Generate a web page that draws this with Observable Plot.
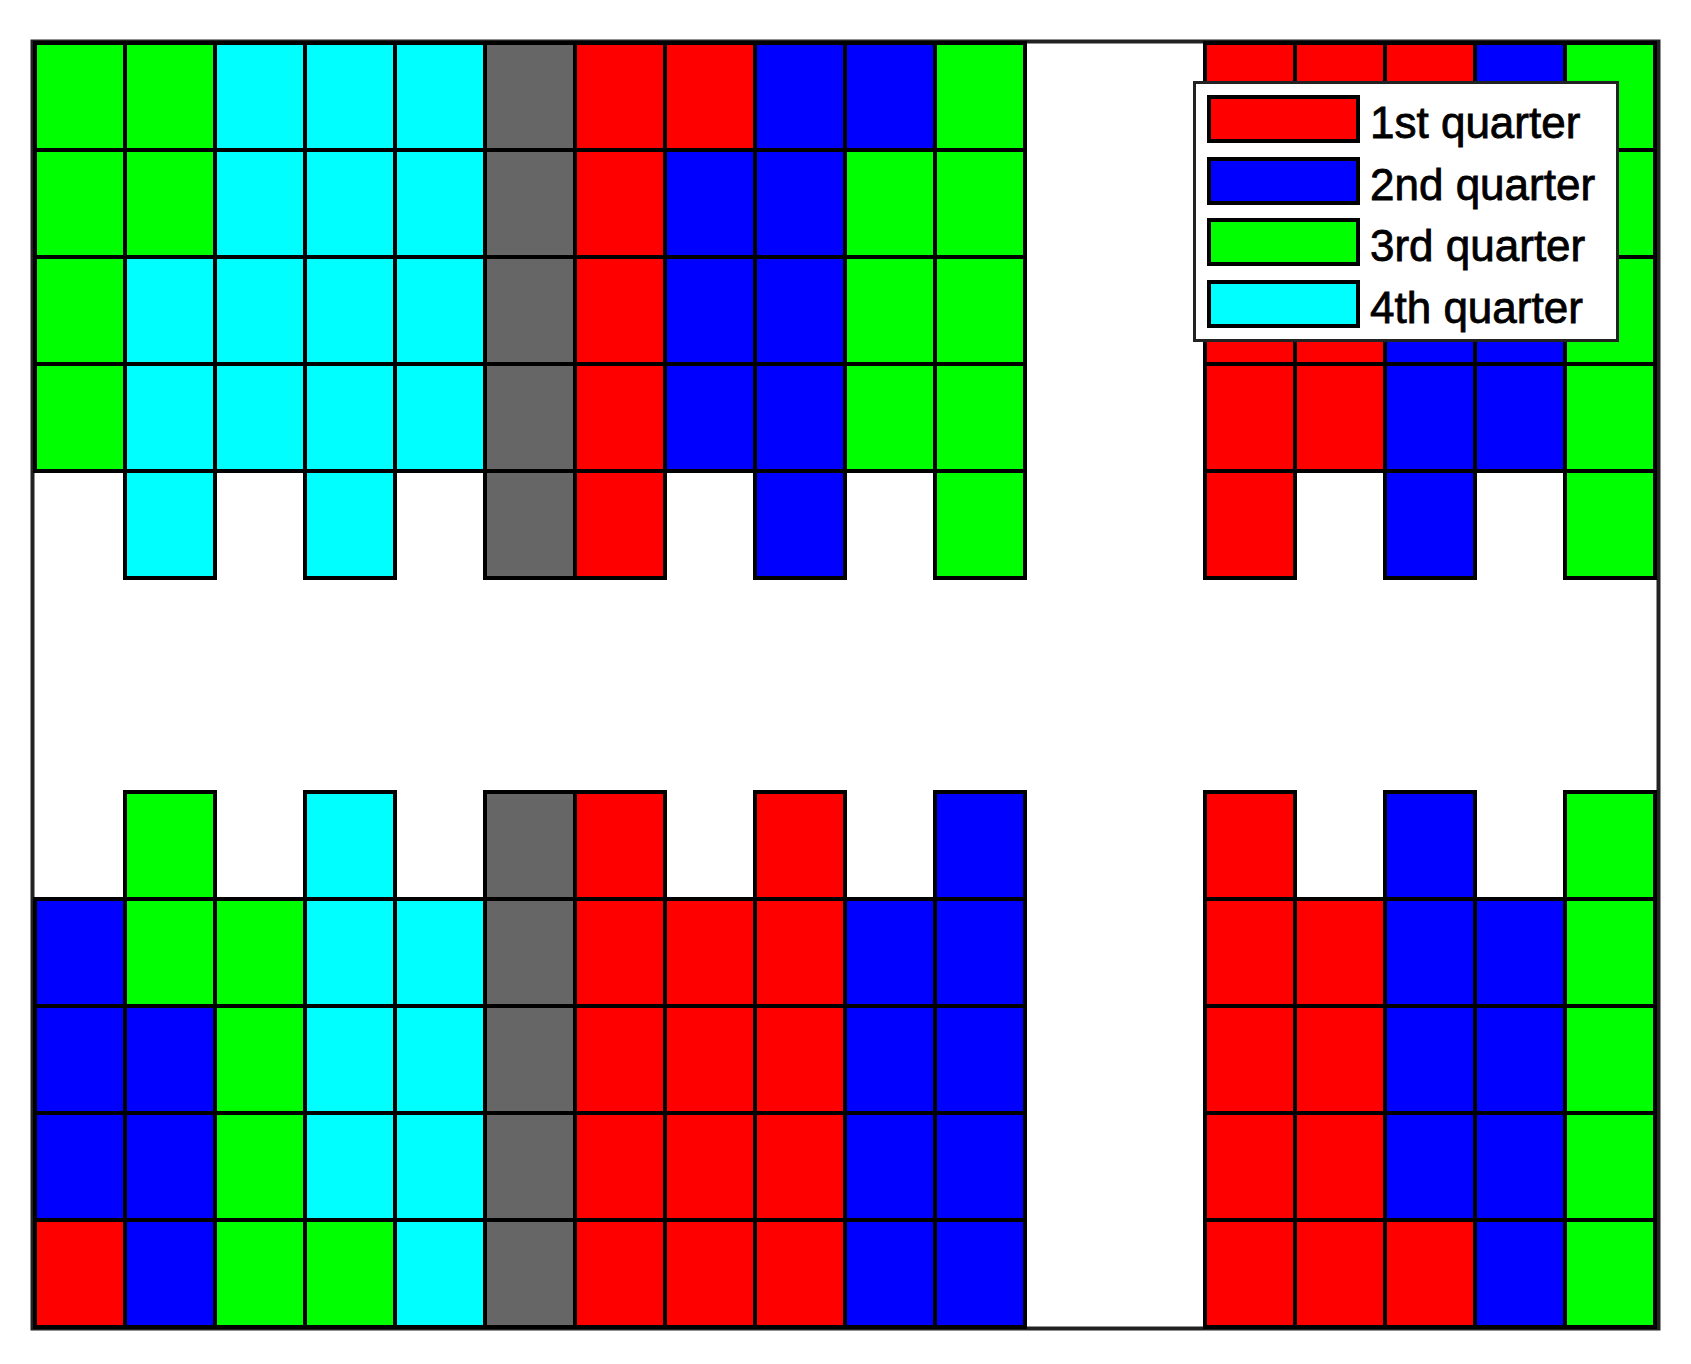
<!DOCTYPE html>
<html>
<head>
<meta charset="utf-8">
<script src="https://cdn.jsdelivr.net/npm/d3@7"></script>
<script src="https://cdn.jsdelivr.net/npm/@observablehq/plot@0.6"></script>
<style>
  html, body { margin: 0; padding: 0; background: #fff; }
  #wrap { position: relative; width: 1691px; height: 1364px; font-family: "Liberation Sans", Arial, sans-serif; }
  #legend { position: absolute; left: 1192.5px; top: 80.5px; width: 426px; height: 261px; box-sizing: border-box;
            border: 3px solid #222; background: #fff; }
  .patch { position: absolute; left: 11.8px; width: 153px; height: 48px; box-sizing: border-box; border: 4px solid #000; }
  .label { position: absolute; left: 174.5px; font-size: 44px; line-height: 48px; color: #000; white-space: nowrap;
           -webkit-text-stroke: 0.8px #000; }
</style>
</head>
<body>
<div id="wrap"></div>
<script>
// Legend categories and their colours (code 0 = grey separator, null = empty)
const quarters = ["1st quarter", "2nd quarter", "3rd quarter", "4th quarter"];
const quarterColors = ["#ff0000", "#0000ff", "#00ff00", "#00ffff"];
const separatorColor = "#666666";

// Grid rows, top to bottom; 1..4 = quarter, 0 = grey, null = empty cell
const row0  = [3,3,4,4,4,0,1,1,2,2,3,null,null,1,1,1,2,3];
const row1  = [3,3,4,4,4,0,1,2,2,3,3,null,null,1,1,2,2,3];
const row2  = [3,4,4,4,4,0,1,2,2,3,3,null,null,1,1,2,2,3];
const row3  = [3,4,4,4,4,0,1,2,2,3,3,null,null,1,1,2,2,3];
const row4  = [null,4,null,4,null,0,1,null,2,null,3,null,null,1,null,2,null,3];
const row5  = [null,null,null,null,null,null,null,null,null,null,null,null,null,null,null,null,null,null];
const row6  = [null,null,null,null,null,null,null,null,null,null,null,null,null,null,null,null,null,null];
const row7  = [null,3,null,4,null,0,1,null,1,null,2,null,null,1,null,2,null,3];
const row8  = [2,3,3,4,4,0,1,1,1,2,2,null,null,1,1,2,2,3];
const row9  = [2,2,3,4,4,0,1,1,1,2,2,null,null,1,1,2,2,3];
const row10 = [2,2,3,4,4,0,1,1,1,2,2,null,null,1,1,2,2,3];
const row11 = [1,2,3,3,4,0,1,1,1,2,2,null,null,1,1,1,2,3];

const rows = [row0,row1,row2,row3,row4,row5,row6,row7,row8,row9,row10,row11];
const nCols = row0.length;

const palette = [separatorColor, ...quarterColors];
const cells = [];
rows.forEach((r, ri) => r.forEach((v, ci) => {
  if (v !== null) cells.push({row: ri, col: ci, code: v});
}));

const chart = Plot.plot({
  width: 1691,
  height: 1364,
  marginLeft: 32,
  marginRight: 33,
  marginTop: 41,
  marginBottom: 36,
  x: {type: "band", domain: d3.range(nCols), padding: 0, axis: null},
  y: {type: "band", domain: d3.range(rows.length), padding: 0, axis: null},
  color: {type: "identity"},
  style: {background: "#fff"},
  marks: [
    Plot.frame({stroke: "#222", strokeWidth: 4}),
    Plot.cell(cells, {x: "col", y: "row", fill: d => palette[d.code], stroke: "#000", strokeWidth: 4, inset: 0, shapeRendering: "crispEdges"})
  ]
});

const wrap = document.getElementById("wrap");
wrap.appendChild(chart);

const legend = document.createElement("div");
legend.id = "legend";
quarters.forEach((q, i) => {
  const top = 11.5 + i * 61.7;
  const p = document.createElement("div");
  p.className = "patch";
  p.style.top = top + "px";
  p.style.background = quarterColors[i];
  legend.appendChild(p);
  const t = document.createElement("div");
  t.className = "label";
  t.style.top = (top + 4) + "px";
  t.textContent = q;
  legend.appendChild(t);
});
wrap.appendChild(legend);
</script>
</body>
</html>
